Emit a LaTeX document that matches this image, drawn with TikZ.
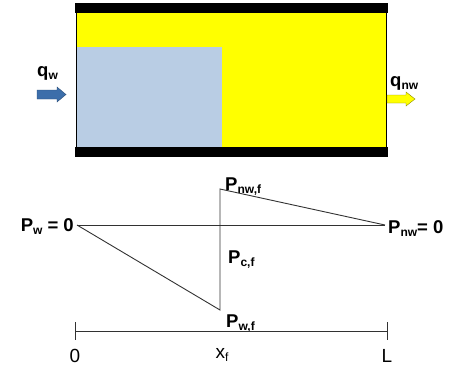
\documentclass[tikz,border=0pt]{standalone}
\usepackage{fontspec}
\setmainfont{Liberation Sans}
\definecolor{wblue}{RGB}{185,205,228}
\definecolor{ayel}{RGB}{255,255,0}
\definecolor{arrblue}{RGB}{60,110,170}
\definecolor{lgray}{RGB}{50,50,50}
\newcommand{\sbs}[1]{\raisebox{-0.35ex}{\fontsize{12}{12}\selectfont #1}}
\begin{document}
\begin{tikzpicture}[x=1pt,y=-1pt,
  lab/.style={inner sep=0pt,font=\fontsize{18.5}{20}\selectfont\bfseries},
  axlab/.style={inner sep=0pt,font=\fontsize{19}{21}\selectfont},
  ln/.style={draw=lgray,line width=0.9pt}]
\useasboundingbox (0,0) rectangle (449,370);
% box
\fill[ayel] (76,3) rectangle (387,157);
\fill[wblue] (77,47) rectangle (222,147);
\fill[black] (75,3) rectangle (388,13);
\fill[black] (75,147) rectangle (388,157);
\draw[black,line width=1pt] (76.5,13) -- (76.5,147);
\draw[black,line width=1pt] (386.5,13) -- (386.5,147);
% flow arrows
\fill[arrblue,draw=arrblue!70!black,line width=0.4pt] (37,90) -- (57,90) -- (57,87) -- (66,94.5) -- (57,102) -- (57,99) -- (37,99) -- cycle;
\node[lab,anchor=base west] (qw) at (37,76) {q\sbs{w}};
\fill[ayel,draw=ayel!55!black,line width=0.4pt] (387,95) -- (406,95) -- (406,92) -- (415,99) -- (406,106) -- (406,103) -- (387,103) -- cycle;
\node[lab,anchor=base west] (qnw) at (390,86) {q\sbs{nw}};
% pressure profile
\coordinate (A) at (77,225);
\coordinate (B) at (385,225);
\coordinate (F) at (220,189);
\coordinate (W) at (220,310);
\node[lab,anchor=base east] (pw) at (74,231) {P\sbs{w} = 0};
\node[lab,anchor=base west] (pnw) at (388,233) {P\sbs{nw}= 0};
\node[lab,anchor=base west] (pnwf) at (225,190) {P\sbs{nw,f}};
\node[lab,anchor=base west] (pcf) at (228,263) {P\sbs{c,f}};
\node[lab,anchor=base west] (pwf) at (226,327) {P\sbs{w,f}};
\draw[ln] (A) -- (B);
\draw[ln] (A) -- (W) -- (F) -- (B);
% axis
\coordinate (O) at (75,331);
\coordinate (Lp) at (387,331);
\draw[ln,line width=0.7pt] (O) -- (Lp);
\draw[ln,line width=0.7pt] (75,322) -- (75,340);
\draw[ln,line width=0.7pt] (387,322) -- (387,340);
\node[axlab,anchor=base] (o) at (75,362) {0};
\node[axlab,anchor=base] (xf) at (222,358) {x\sbs{f}};
\node[axlab,anchor=base] (l) at (387,362) {L};
\end{tikzpicture}
\end{document}
